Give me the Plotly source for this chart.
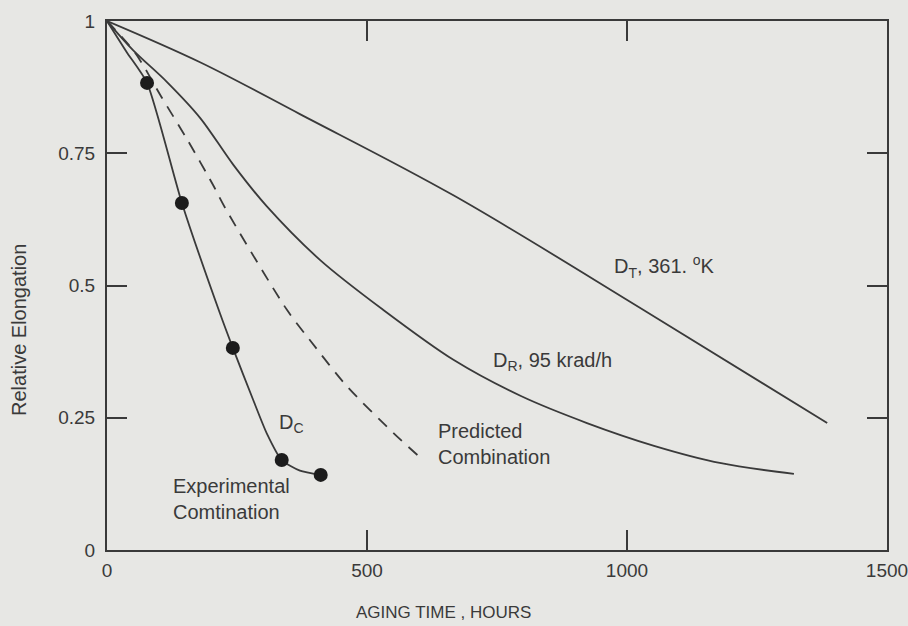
import plotly.graph_objects as go

# Aging time (hours) / relative elongation
dt_x = [0, 179, 371, 667, 1038, 1385]
dt_y = [1.0, 0.922, 0.824, 0.670, 0.450, 0.240]

dr_x = [0, 50, 115, 179, 243, 307, 410, 531, 667, 796, 923, 1052, 1181, 1321]
dr_y = [1.0, 0.945, 0.885, 0.817, 0.728, 0.650, 0.548, 0.454, 0.359, 0.291, 0.240, 0.197, 0.164, 0.144]

pred_x = [0, 54, 105, 156, 204, 227, 346, 390, 461, 551, 610]
pred_y = [1.0, 0.940, 0.856, 0.773, 0.690, 0.647, 0.454, 0.397, 0.310, 0.221, 0.168]

exp_curve_x = [0, 38, 77, 144, 217, 242, 281, 307, 336, 371, 411]
exp_curve_y = [1.0, 0.941, 0.883, 0.656, 0.448, 0.382, 0.284, 0.221, 0.170, 0.150, 0.142]

exp_pts_x = [77, 144, 242, 336, 411]
exp_pts_y = [0.883, 0.656, 0.382, 0.170, 0.142]

x_ticks = [0, 500, 1000, 1500]
x_ticktext = ["0", "500", "1000", "1500"]
y_ticks = [0, 0.25, 0.5, 0.75, 1]
y_ticktext = ["0", "0.25", "0.5", "0.75", "1"]

ink = "#3a3a3a"
bg = "#e7e7e4"
font_family = "Liberation Sans, Arial, sans-serif"

W, H = 908, 626
ML, MR, MT, MB = 107, 21, 21, 76
PW, PH = W - ML - MR, H - MT - MB

def px_to_paper(px, py):
    return (px - ML) / PW, (H - MB - py) / PH

fig = go.Figure()
fig.add_trace(go.Scatter(x=dt_x, y=dt_y, mode="lines",
                         line=dict(color=ink, width=1.8, shape="spline", smoothing=1.0),
                         hoverinfo="skip"))
fig.add_trace(go.Scatter(x=dr_x, y=dr_y, mode="lines",
                         line=dict(color=ink, width=1.8, shape="spline", smoothing=0.9),
                         hoverinfo="skip"))
fig.add_trace(go.Scatter(x=pred_x, y=pred_y, mode="lines",
                         line=dict(color=ink, width=1.8, shape="spline", smoothing=0.8,
                                   dash="12px,9px"),
                         hoverinfo="skip"))
fig.add_trace(go.Scatter(x=exp_curve_x, y=exp_curve_y, mode="lines",
                         line=dict(color=ink, width=1.8, shape="spline", smoothing=0.6),
                         hoverinfo="skip"))
fig.add_trace(go.Scatter(x=exp_pts_x, y=exp_pts_y, mode="markers",
                         marker=dict(color="#1c1c1c", size=14),
                         hoverinfo="skip"))

def label(x, y, text, xanchor="left"):
    fig.add_annotation(x=x, y=y, xref="x", yref="y", text=text, showarrow=False,
                       xanchor=xanchor, yanchor="middle", align="left",
                       font=dict(family=font_family, size=20, color=ink))

label(971, 0.535, "D<sub>T</sub>, 361. <sup>o</sup>K")
label(738, 0.357, "D<sub>R</sub>, 95 krad/h")
label(327, 0.240, "D<sub>C</sub>")
label(633, 0.200, "Predicted<br>Combination")
label(123, 0.096, "Experimental<br>Comtination")

fig.update_layout(
    width=W, height=H,
    margin=dict(l=ML, r=MR, t=MT, b=MB, autoexpand=False),
    paper_bgcolor=bg, plot_bgcolor=bg,
    showlegend=False,
    font=dict(family=font_family, size=19, color=ink),
    xaxis=dict(range=[0, 1500], tickvals=x_ticks, ticktext=x_ticktext,
               ticks="inside", ticklen=20, tickwidth=1.5, tickcolor=ink,
               showline=True, linecolor=ink, linewidth=2, mirror="ticks",
               showgrid=False, zeroline=False, ticklabelstandoff=2,
               automargin=False, ticklabeloverflow="allow", tickfont=dict(size=19)),
    yaxis=dict(range=[0, 1], tickvals=y_ticks, ticktext=y_ticktext,
               ticks="inside", ticklen=20, tickwidth=1.5, tickcolor=ink,
               showline=True, linecolor=ink, linewidth=2, mirror="ticks",
               showgrid=False, zeroline=False, ticklabelstandoff=6,
               automargin=False, ticklabeloverflow="allow", tickfont=dict(size=19)),
)

# axis titles placed where the reference draws them
tx, ty = px_to_paper(443, 612)
fig.add_annotation(x=tx, y=ty, xref="paper", yref="paper",
                   text="AGING TIME , HOURS", showarrow=False,
                   xanchor="center", yanchor="middle",
                   font=dict(family=font_family, size=17, color=ink))
tx, ty = px_to_paper(19, 330)
fig.add_annotation(x=tx, y=ty, xref="paper", yref="paper",
                   text="Relative Elongation", textangle=-90, showarrow=False,
                   xanchor="center", yanchor="middle",
                   font=dict(family=font_family, size=20, color=ink))

fig.write_html("out.html", config={"displayModeBar": False},
               post_script="document.body.style.margin='0';")
